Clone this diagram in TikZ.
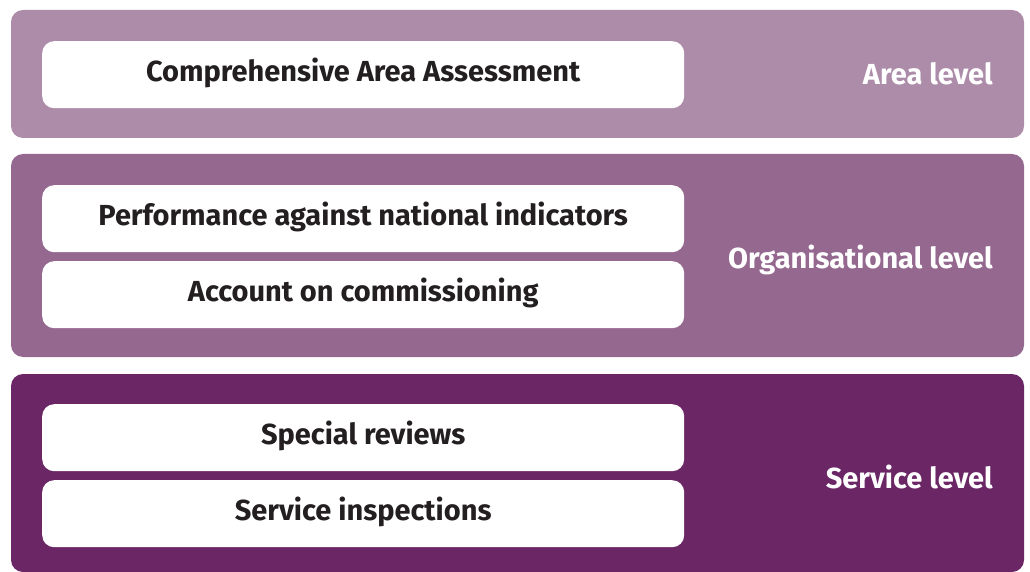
\documentclass[tikz,border=0pt]{standalone}
\usepackage{fontspec}
\setmainfont{Fira Sans}
\definecolor{arealvl}{RGB}{173,140,170}
\definecolor{orglvl}{RGB}{148,104,143}
\definecolor{servlvl}{RGB}{107,38,102}
\definecolor{itemtext}{RGB}{35,31,32}
\begin{document}
\begin{tikzpicture}[x=1pt,y=-1pt,
  band/.style={rounded corners=12pt},
  item/.style={fill=white,rounded corners=12pt,anchor=north west,
    minimum width=642pt,minimum height=67pt,inner sep=0pt,
    text height=13pt,text depth=0pt,
    font=\fontsize{29}{34}\selectfont\bfseries,text=itemtext},
  lvl/.style={anchor=base east,inner sep=0pt,text=white,
    font=\fontsize{29}{34}\selectfont\bfseries}]
\useasboundingbox (0,0) rectangle (1030,572);
% level bands
\fill[band,arealvl] (11,10) rectangle (1024,138);
\fill[band,orglvl] (11,154) rectangle (1024,357);
\fill[band,servlvl] (11,374) rectangle (1024,572);
% assessment items
\node[item] (caa) at (42,41) {Comprehensive Area Assessment};
\node[item] (pni) at (42,185) {Performance against national indicators};
\node[item] (acc) at (42,261) {Account on commissioning};
\node[item] (spr) at (42,404) {Special reviews};
\node[item] (svi) at (42,480) {Service inspections};
% level labels
\node[lvl] (area) at (993,85) {Area level};
\node[lvl] (org) at (993,268) {Organisational level};
\node[lvl] (serv) at (993,488) {Service level};
\end{tikzpicture}
\end{document}
